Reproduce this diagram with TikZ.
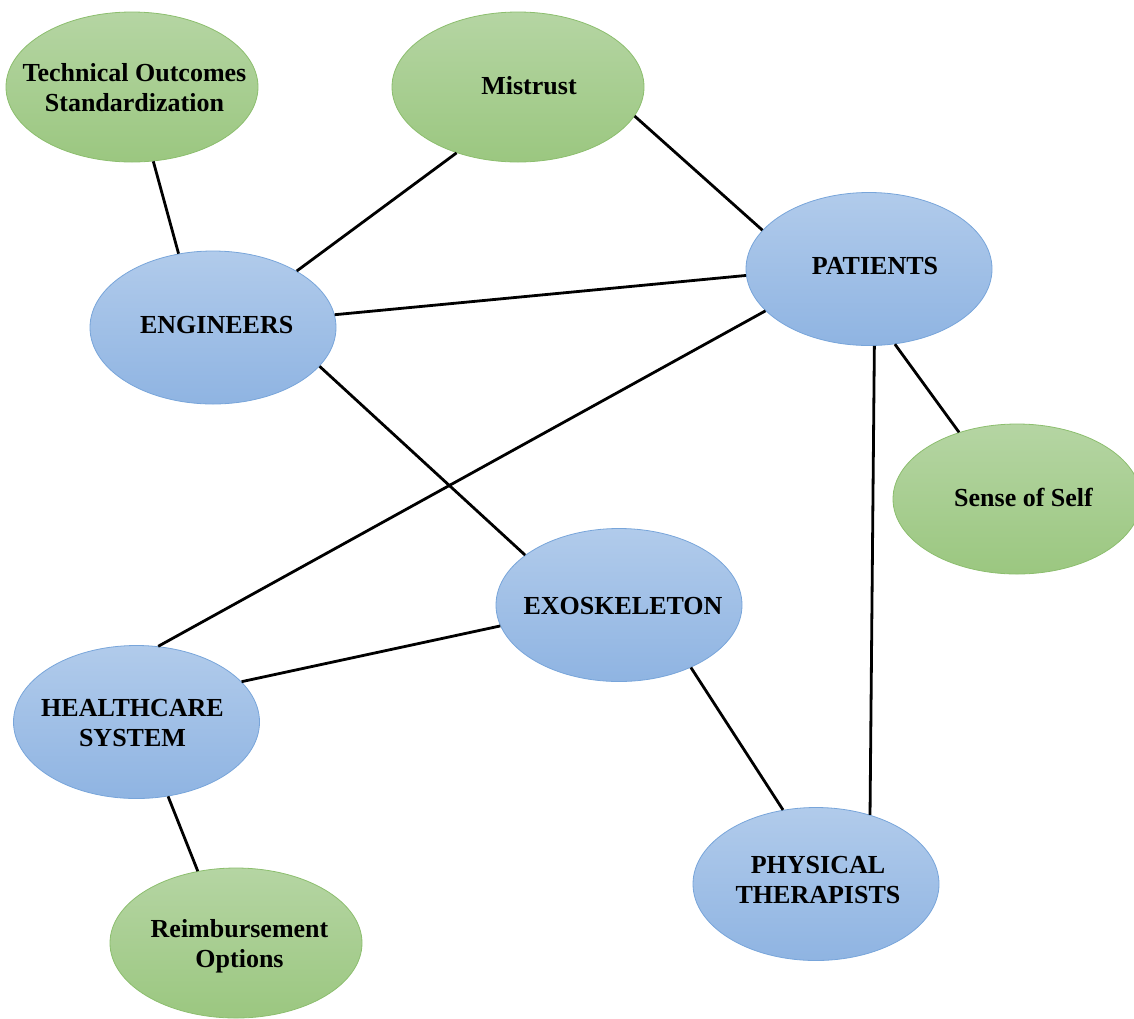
\documentclass[tikz,border=0pt]{standalone}
\usepackage{fontspec}
\setmainfont{Liberation Serif}
\usetikzlibrary{shapes.geometric}
\definecolor{gtop}{RGB}{181,213,163}
\definecolor{gbot}{RGB}{155,199,128}
\definecolor{gline}{RGB}{140,190,110}
\definecolor{btop}{RGB}{177,203,235}
\definecolor{bbot}{RGB}{143,180,226}
\definecolor{bline}{RGB}{120,165,218}
\begin{document}
\begin{tikzpicture}[x=1pt,y=-1pt,
  greenov/.style={ellipse, draw=gline, line width=0.8pt, top color=gtop, bottom color=gbot,
    minimum width=252pt, minimum height=150pt, inner sep=0pt},
  blueov/.style={ellipse, draw=bline, line width=0.8pt, top color=btop, bottom color=bbot,
    minimum width=246pt, minimum height=153pt, inner sep=0pt},
  lbl/.style={font=\fontsize{26}{30}\selectfont\bfseries, align=center, inner sep=0pt, text=black},
  conn/.style={draw=black, line width=2.8pt}]
\useasboundingbox (0,0) rectangle (1134,1018);
% green ellipses
\node[greenov, label={[lbl,xshift=2.5pt,yshift=-1pt]center:{Technical Outcomes\\Standardization}}] (tech) at (132,87) {};
\node[greenov, label={[lbl,xshift=11pt,yshift=1pt]center:Mistrust}] (mis) at (518,87) {};
\node[greenov, minimum width=248pt, label={[lbl,xshift=6.5pt,yshift=2pt]center:Sense of Self}] (self) at (1017,499) {};
\node[greenov, label={[lbl,xshift=3.5pt,yshift=-3pt]center:{Reimbursement\\Options}}] (reimb) at (236,943) {};
% blue ellipses
\node[blueov, label={[lbl,xshift=3.7pt,yshift=2pt]center:ENGINEERS}] (eng) at (213,327.5) {};
\node[blueov, label={[lbl,xshift=6pt,yshift=2.6pt]center:PATIENTS}] (pat) at (869,269) {};
\node[blueov, label={[lbl,xshift=4pt,yshift=-1.4pt]center:EXOSKELETON}] (exo) at (619,605) {};
\node[blueov, label={[lbl,xshift=-4pt,yshift=-1.5pt]center:{HEALTHCARE\\SYSTEM}}] (hc) at (136.5,722) {};
\node[blueov, label={[lbl,xshift=2pt,yshift=4pt]center:{PHYSICAL\\THERAPISTS}}] (pt) at (816,884) {};
% connectors
\draw[conn] (tech.-74.7) -- (eng.115.4);
\draw[conn] (mis.-133.6) -- (eng.34.9);
\draw[conn] (mis.-14.8) -- (pat.160.5);
\draw[conn] (eng.6.8) -- (pat.183.3);
\draw[conn] (pat.-158.9) -- (hc.74.6);
\draw[conn] (eng.-20.8) -- (exo.152.6);
\draw[conn] (exo.-170.8) -- (hc.21.8);
\draw[conn] (exo.-41.0) -- (pt.114.7);
\draw[conn] (pat.-86.8) -- (pt.52.6);
\draw[conn] (pat.-71.7) -- (self.131.5);
\draw[conn] (hc.-67.6) -- (reimb.118.2);
\end{tikzpicture}
\end{document}
